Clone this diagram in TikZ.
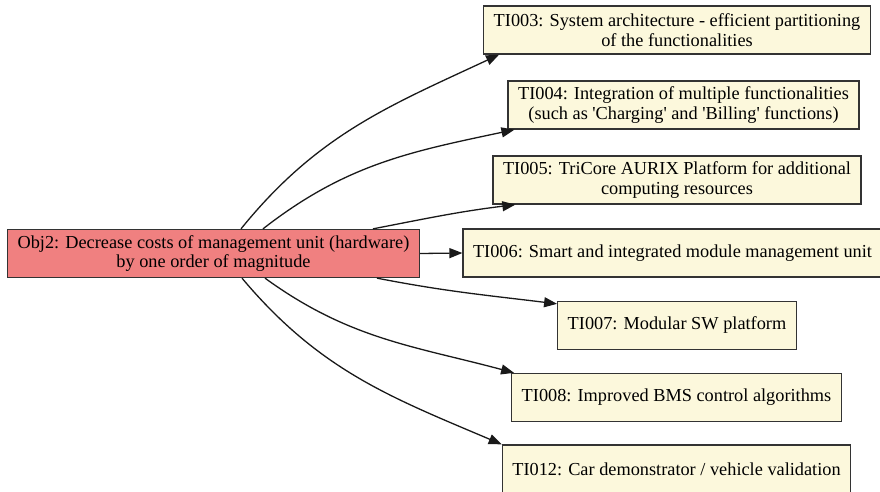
\documentclass[tikz,border=0pt]{standalone}
\usepackage{fontspec}
\setmainfont{Liberation Serif}
\usetikzlibrary{arrows.meta}
\definecolor{objred}{HTML}{F08080}
\definecolor{tiyellow}{HTML}{FCF8DC}
\begin{document}
\begin{tikzpicture}[x=1pt, y=1pt,
    box/.style={draw=black!80, line width=1.3pt, align=center, inner xsep=10pt, inner ysep=2pt,
                minimum height=48pt, font=\fontsize{18.3}{19.5}\selectfont},
    objbox/.style={box, fill=objred},
    tibox/.style={box, fill=tiyellow},
    link/.style={black!90, line width=1.3pt, -{Triangle[length=13pt, width=10pt]}}]
    \useasboundingbox (0,0) rectangle (880,491);
    \node[objbox] (obj2) at (213.5,237.5) {Obj2: Decrease costs of management unit (hardware)\\by one order of magnitude};
    \node[tibox] (ti003) at (677,461) {TI003: System architecture - efficient partitioning\\of the functionalities};
    \node[tibox] (ti004) at (683.5,386) {TI004: Integration of multiple functionalities\\(such as \textquotesingle Charging\textquotesingle{} and \textquotesingle Billing\textquotesingle{} functions)};
    \node[tibox] (ti005) at (677,311) {TI005: TriCore AURIX Platform for additional\\computing resources};
    \node[tibox] (ti006) at (672.5,238) {TI006: Smart and integrated module management unit};
    \node[tibox] (ti007) at (677,165.5) {TI007: Modular SW platform};
    \node[tibox] (ti008) at (676.5,93.5) {TI008: Improved BMS control algorithms};
    \node[tibox] (ti012) at (676.5,22) {TI012: Car demonstrator / vehicle validation};
    % upper fan
    \draw[link] ([xshift=27.5pt]obj2.north) to[out=51, in=205] ([xshift=16pt]ti003.south west);
    \draw[link] ([xshift=49.5pt]obj2.north) to[out=38, in=192] ([xshift=7pt]ti004.south west);
    \draw[link] ([xshift=159.5pt]obj2.north) to[out=11, in=187] ([xshift=23pt]ti005.south west);
    \draw[link] (obj2.east) -- (ti006.west);
    % lower fan
    \draw[link] ([xshift=163.5pt]obj2.south) to[out=-11, in=173] ([yshift=-3pt]ti007.north west);
    \draw[link] ([xshift=51.5pt]obj2.south) to[out=-36, in=165] ([xshift=3pt]ti008.north west);
    \draw[link] ([xshift=28.5pt]obj2.south) to[out=-50, in=157] (ti012.north west);
\end{tikzpicture}
\end{document}
